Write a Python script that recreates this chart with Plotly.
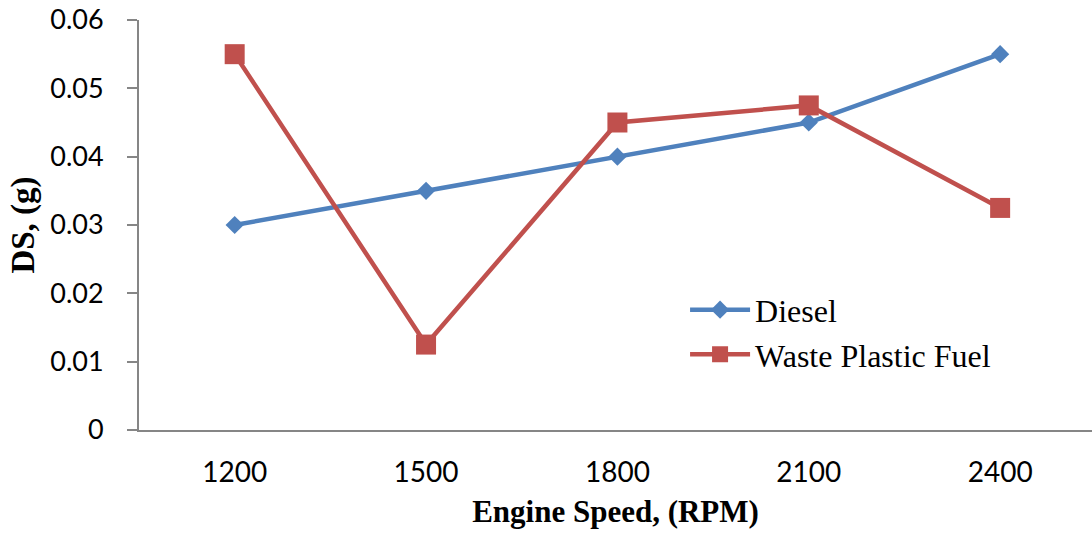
import plotly.graph_objects as go

# Engine speed categories and measured DS values
speeds = ["1200", "1500", "1800", "2100", "2400"]
diesel = [0.030, 0.035, 0.040, 0.045, 0.055]
waste_plastic = [0.055, 0.0125, 0.045, 0.0475, 0.0325]
y_ticks = [0, 0.01, 0.02, 0.03, 0.04, 0.05, 0.06]
y_tick_text = ["0", "0.01", "0.02", "0.03", "0.04", "0.05", "0.06"]

BLUE = "#4F81BD"
RED = "#C0504D"
SERIF = "Liberation Serif, Times New Roman, serif"
SANS = "Lato, Open Sans, sans-serif"

fig = go.Figure()
fig.add_trace(go.Scatter(
    x=speeds, y=diesel, name="Diesel", mode="lines+markers",
    line=dict(color=BLUE, width=4.5),
    marker=dict(symbol="diamond", size=14, color=BLUE, line=dict(width=0)),
))
fig.add_trace(go.Scatter(
    x=speeds, y=waste_plastic, name="Waste Plastic Fuel", mode="lines+markers",
    line=dict(color=RED, width=4.5),
    marker=dict(symbol="square", size=20, color=RED, line=dict(width=0)),
))

fig.update_layout(
    width=1092, height=535,
    margin=dict(l=139, r=0, t=20, b=105),
    paper_bgcolor="white", plot_bgcolor="white",
    showlegend=True,
    legend=dict(
        x=0.573, y=0.36, xanchor="left", yanchor="top",
        font=dict(family=SERIF, size=32, color="black"),
        bgcolor="rgba(0,0,0,0)", itemwidth=60, tracegroupgap=0,
    ),
    xaxis=dict(
        type="category", range=[-0.5, 4.48],
        showline=True, linecolor="#868686", linewidth=2,
        showgrid=False, zeroline=False, ticks="",
        tickfont=dict(family=SANS, size=28, color="black"),
        ticklabelstandoff=16,
        title=dict(text="<b>Engine Speed, (RPM)</b>",
                   font=dict(family=SERIF, size=31, color="black"), standoff=14),
    ),
    yaxis=dict(
        range=[0, 0.06], tickvals=y_ticks, ticktext=y_tick_text,
        showline=True, linecolor="#868686", linewidth=2,
        showgrid=False, zeroline=False,
        ticks="outside", ticklen=10, tickwidth=2, tickcolor="#868686",
        tickfont=dict(family=SANS, size=27, color="black"),
        ticklabelstandoff=18,
        title=dict(text="<b>DS, (g)</b>",
                   font=dict(family=SERIF, size=33, color="black"), standoff=6),
    ),
)

fig.write_html("out.html")
